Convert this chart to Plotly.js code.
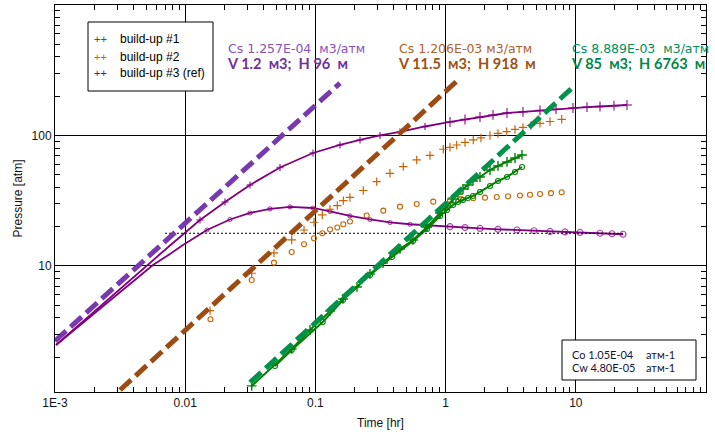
<!DOCTYPE html>
<html>
<head>
<meta charset="utf-8">
<script src="https://cdn.plot.ly/plotly-3.0.1.min.js"></script>
<style>html,body{margin:0;padding:0;background:#fff}#chart{width:715px;height:432px}</style>
</head>
<body>
<div id="chart"></div>
<script>
// ---- Build-up #3 (ref), purple ----
var refPresT = [0.001018,0.001556,0.002645,0.004496,0.007643,0.01299,0.02021,0.03146,0.05346,0.09585,0.1545,0.2201,0.3134,0.4465,0.6948,1.081,1.409,1.837,2.313,2.962,3.930,5.309,7.044,9.517,12.19,15.34,19.65,24.73];
var refPresP = [2.481,3.594,5.686,9.08,14.36,22.51,30.94,41.75,56.86,73.4,84.6,92.4,100,106.4,117.2,126.9,132.6,138.6,143.6,148.7,151.9,155.5,159.1,162.4,164.8,166.8,169.2,171.3];
var refDerT = [0.001018,0.001556,0.002645,0.003767,0.005658,0.007643,0.009618,0.01470,0.02208,0.03146,0.04481,0.06380,0.09585,0.1295,0.1843,0.2626,0.3741,0.5329,0.7589,1.081,1.409,1.837,2.526,3.535,4.775,6.336,8.264,10.77,15.34,18.97,23.04];
var refDerP = [2.481,3.531,5.440,7.28,10.18,12.36,14.48,18.87,22.71,25.47,27.35,28.32,27.82,26.16,24.16,22.71,21.54,20.87,20.37,20.00,19.69,19.38,19.10,18.87,18.61,18.38,18.22,18.06,17.81,17.65,17.50];

// ---- Build-up #2, orange ----
var bu2PresT = [0.01551,0.03242,0.04808,0.06577,0.08176,0.09754,0.1130,0.1295,0.1473,0.1638,0.1843,0.2333,0.2957,0.3741,0.4733,0.5998,0.7589,0.9601,1.081,1.217,1.409,1.632,1.870,2.193,2.526,2.946,3.412,3.930,4.527,5.309,6.336,7.794];
var bu2PresP = [4.544,8.793,12.58,15.82,18.87,21.62,24.60,27.20,28.98,31.65,33.49,37.88,44.26,51.32,57.67,64.91,70.27,78.42,81.2,84.57,88.4,92.38,95.7,100,103.6,106.9,111.2,115.2,119.3,124.0,128.0,133.1];
var bu2DerT = [0.01564,0.03242,0.04808,0.06577,0.08176,0.09754,0.1130,0.1295,0.1473,0.1638,0.1843,0.2477,0.3322,0.4465,0.5998,0.8042,1.081,1.313,1.632,2.007,2.469,3.015,3.728,4.448,5.309,6.449,7.794];
var bu2DerP = [3.904,7.81,10.60,12.80,14.67,16.31,17.81,19.04,19.72,20.87,21.93,24.38,26.53,28.47,29.86,31.10,32.04,32.51,33.02,33.38,33.78,34.21,34.69,35.12,35.62,36.13,36.71];

// ---- Build-up #1, green ----
var bu1PresT = [0.03242,0.06577,0.09089,0.1295,0.1629,0.2087,0.2626,0.3305,0.4465,0.5618,0.7196,0.9058,1.025,1.140,1.245,1.360,1.486,1.623,1.837,2.193,2.526,2.962,3.412,3.862];
var bu1PresP = [1.204,2.312,3.233,4.520,5.585,6.904,8.684,10.54,13.50,15.82,19.90,25.47,28.83,32.62,35.62,38.90,41.75,44.81,48.08,54.39,58.40,62.66,67.23,70.90];
var bu1DerT = [0.04894,0.06577,0.1138,0.1629,0.2626,0.3876,0.5618,0.7196,0.9058,1.025,1.140,1.245,1.360,1.486,1.623,1.837,2.193,2.526,2.962,3.412,3.862];
var bu1DerP = [1.713,2.272,3.723,5.488,8.531,11.72,15.54,19.21,24.16,26.86,29.34,30.94,32.04,33.20,34.39,36.90,41.02,44.81,48.08,52.52,57.36];

// ---- Wellbore storage straight lines (start, end) and stabilisation level ----
var wbsRefT = [0.001, 0.1545], wbsRefP = [2.66, 252];
var wbs2T = [0.00316, 1.224], wbs2P = [1.12, 262];
var wbs1T = [0.0315, 9.30], wbs1P = [1.28, 230];
var stabT = [0.0070, 24], stabP = [17.8, 17.8];

// ---- Labels ----
var xTickVals = [0.001, 0.01, 0.1, 1, 10];
var xTickText = ['1E-3', '0.01', '0.1', '1', '10'];
var yTickVals = [10, 100];
var yTickText = ['10', '100'];
var legendNames = ['build-up #1', 'build-up #2', 'build-up #3 (ref)'];
var NB = '\u00a0';
var csLines = [
  ['Cs 1.257E-04' + NB + NB + 'м3/атм', 'V 1.2' + NB + NB + 'м3;' + NB + NB + 'H 96' + NB + NB + 'м'],
  ['Cs 1.206E-03' + NB + 'м3/атм', 'V 11.5' + NB + NB + 'м3;' + NB + NB + 'H 918' + NB + NB + 'м'],
  ['Cs 8.889E-03' + NB + NB + 'м3/атм', 'V 85' + NB + NB + 'м3;' + NB + NB + 'H 6763' + NB + NB + 'м']
];
var compLabels = ['Co 1.05E-04', 'Cw 4.80E-05'];
var compUnit = 'атм-1';

var C = {
  purple: '#800080', orange: '#c86400', green: '#008000',
  dPurple: '#7838ae', dBrown: '#9c4c12', dGreen: '#00924a',
  tPurple1: '#8a50c0', tPurple2: '#7030a0',
  tBrown1: '#b0622a', tBrown2: '#a05010',
  tGreen1: '#00905a', tGreen2: '#00884a'
};

function minorVals(lo, hi) {
  var v = [];
  for (var e = lo; e < hi; e++) for (var k = 2; k <= 9; k++) v.push(k * Math.pow(10, e));
  return v;
}
// early-time reference points are drawn as a plain line (marker hidden)
var refPresSize = refPresT.map(function (t) { return t < 0.012 ? 0 : (t < 1 ? 5 : 7); });
var refDerSize = refDerT.map(function (t) { return t < 0.012 ? 0 : (t < 1 ? 4 : 6); });

var traces = [];
traces.push({x: refPresT, y: refPresP, mode: 'lines+markers', line: {color: C.purple, width: 1.8},
  marker: {symbol: 'cross-thin-open', size: refPresSize, line: {color: C.purple, width: 1.5}}});
traces.push({x: refDerT, y: refDerP, mode: 'lines+markers', line: {color: C.purple, width: 1.8},
  marker: {symbol: 'circle-open', size: refDerSize, line: {color: C.purple, width: 1.2}}});
traces.push({x: bu2PresT, y: bu2PresP, mode: 'markers',
  marker: {symbol: 'cross-thin-open', size: 6, color: C.orange, line: {color: C.orange, width: 1.2}}});
traces.push({x: bu2DerT, y: bu2DerP, mode: 'markers',
  marker: {symbol: 'circle-open', size: 5, color: C.orange, line: {color: C.orange, width: 1.1}}});
traces.push({x: bu1PresT, y: bu1PresP, mode: 'lines+markers', line: {color: C.green, width: 2},
  marker: {symbol: 'cross-thin-open', size: 7, color: C.green, line: {color: C.green, width: 1.4}}});
traces.push({x: bu1DerT, y: bu1DerP, mode: 'lines+markers', line: {color: C.green, width: 2},
  marker: {symbol: 'circle-open', size: 5, color: C.green, line: {color: C.green, width: 1.1}}});
traces.push({x: stabT, y: stabP, mode: 'lines', line: {color: '#000', width: 1, dash: '2px,2px'}});
traces.push({x: wbsRefT, y: wbsRefP, mode: 'lines', line: {color: C.dPurple, width: 5, dash: '15px,6px'}});
traces.push({x: wbs2T, y: wbs2P, mode: 'lines', line: {color: C.dBrown, width: 5, dash: '15px,6px'}});
traces.push({x: wbs1T, y: wbs1P, mode: 'lines', line: {color: C.dGreen, width: 5, dash: '15px,6px'}});

var W = 651, H = 387, L = 55, T = 5;
function px(p) { return (p - L) / W; }
function py(p) { return (T + H - p) / H; }

var FONT = 'Liberation Sans, Arial, sans-serif';
var ann = [];
var csX = [228, 399, 571.5];
var csCol = [[C.tPurple1, C.tPurple2], [C.tBrown1, C.tBrown2], [C.tGreen1, C.tGreen2]];
for (var i = 0; i < 3; i++) {
  ann.push({xref: 'paper', yref: 'paper', x: px(csX[i]) - 0.003, y: py(56), xanchor: 'left', yanchor: 'middle',
    align: 'left', showarrow: false, borderpad: 0,
    text: '<span style="font-family:DejaVu Sans;color:' + csCol[i][0] + '">' + csLines[i][0] + '</span><br>' +
          '<span style="font-family:Lato;font-size:14.6px;color:' + csCol[i][1] + '"><b>' + csLines[i][1] + '</b></span>',
    font: {family: 'DejaVu Sans', size: 12.5, color: csCol[i][0]}});
}
var legCols = [C.green, C.orange, C.purple];
var legY = [39.3, 56.7, 73.3];
for (var j = 0; j < 3; j++) {
  ann.push({xref: 'paper', yref: 'paper', x: px(100), y: py(legY[j]), xanchor: 'center', yanchor: 'middle',
    text: '++', showarrow: false, font: {family: FONT, size: 11, color: legCols[j]}});
  ann.push({xref: 'paper', yref: 'paper', x: px(118), y: py(legY[j]), xanchor: 'left', yanchor: 'middle',
    text: legendNames[j], showarrow: false, font: {family: FONT, size: 12, color: '#000'}});
}
var compY = [354, 367.3];
for (var k = 0; k < 2; k++) {
  ann.push({xref: 'paper', yref: 'paper', x: px(571), y: py(compY[k]), xanchor: 'left', yanchor: 'middle',
    text: compLabels[k], showarrow: false, borderpad: 0, font: {family: 'Lato', size: 11, color: '#141438'}});
  ann.push({xref: 'paper', yref: 'paper', x: px(645), y: py(compY[k]), xanchor: 'left', yanchor: 'middle',
    text: compUnit, showarrow: false, borderpad: 0, font: {family: 'Lato', size: 11, color: '#141438'}});
}

var shapes = [
  {type: 'rect', xref: 'paper', yref: 'paper', x0: px(88), x1: px(213), y0: py(91), y1: py(22),
    line: {color: '#000', width: 1}, fillcolor: '#fff', layer: 'above'},
  {type: 'rect', xref: 'paper', yref: 'paper', x0: px(562), x1: px(696), y0: py(380), y1: py(340),
    line: {color: '#000', width: 1}, fillcolor: '#fff', layer: 'above'}
];

var layout = {
  width: 715, height: 432,
  margin: {l: 55, r: 9, t: 5, b: 40},
  paper_bgcolor: '#fff', plot_bgcolor: '#fff',
  font: {family: FONT, size: 12, color: '#111'},
  showlegend: false,
  xaxis: {
    type: 'log', range: [-3, 2], tickmode: 'array', tickvals: xTickVals, ticktext: xTickText,
    showgrid: true, gridcolor: '#000', gridwidth: 1, zeroline: false,
    showline: true, linecolor: '#000', linewidth: 1, mirror: 'allticks',
    ticks: 'inside', ticklen: 0, tickfont: {size: 12, color: '#111'},
    minor: {tickmode: 'array', tickvals: minorVals(-3, 2), ticks: 'inside', ticklen: 5, tickcolor: '#000', tickwidth: 1, showgrid: false},
    title: {text: 'Time [hr]', font: {size: 12, color: '#111'}, standoff: 9},
    automargin: false
  },
  yaxis: {
    type: 'log', range: [0.034, 3], tickmode: 'array', tickvals: yTickVals, ticktext: yTickText,
    showgrid: true, gridcolor: '#000', gridwidth: 1, zeroline: false,
    showline: true, linecolor: '#000', linewidth: 1, mirror: 'allticks',
    ticks: 'inside', ticklen: 0, tickfont: {size: 12, color: '#111'},
    minor: {tickmode: 'array', tickvals: minorVals(0, 3), ticks: 'inside', ticklen: 5, tickcolor: '#000', tickwidth: 1, showgrid: false},
    title: {text: 'Pressure [atm]', font: {size: 12, color: '#111'}, standoff: 6},
    automargin: false
  },
  annotations: ann,
  shapes: shapes
};

Plotly.newPlot('chart', traces, layout, {staticPlot: true, displayModeBar: false});
</script>
</body>
</html>
